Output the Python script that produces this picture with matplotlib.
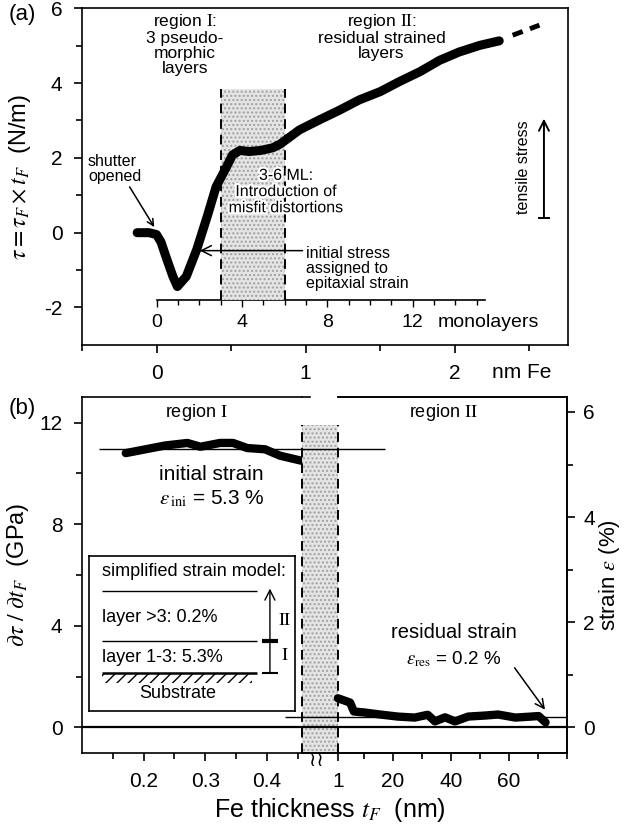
import numpy as np
import matplotlib.pyplot as plt
import matplotlib.patheffects as pe
from matplotlib.ticker import FixedLocator

plt.rcParams['font.family'] = ['Liberation Sans', 'DejaVu Sans']
plt.rcParams['mathtext.fontset'] = 'stix'
plt.rcParams['axes.unicode_minus'] = False

# ---- data ----
# panel (a): integrated stress vs thickness (nm)
t_a = [-0.13, -0.05, 0.0, 0.03, 0.07, 0.11, 0.14, 0.20, 0.27, 0.34, 0.40, 0.47,
       0.51, 0.56, 0.62, 0.70, 0.78, 0.83, 0.96, 1.09, 1.23, 1.36, 1.50, 1.63,
       1.77, 1.90, 2.03, 2.17, 2.30]
tau_a = [0.0, 0.0, -0.05, -0.25, -0.72, -1.17, -1.44, -1.17, -0.45, 0.43, 1.23,
         1.76, 2.08, 2.20, 2.17, 2.20, 2.27, 2.37, 2.75, 3.01, 3.28, 3.55, 3.77,
         4.04, 4.31, 4.61, 4.83, 5.01, 5.13]
t_ext = [2.39, 2.57]
tau_ext = [5.28, 5.55]

# panel (b): stress derivative, region I (nm) and region II (nm)
t_b1 = [0.171, 0.235, 0.271, 0.292, 0.324, 0.345, 0.368, 0.397, 0.421, 0.456]
d_b1 = [10.8, 11.1, 11.2, 11.05, 11.2, 11.2, 11.0, 10.95, 10.7, 10.5]
t_b2 = [1.0, 5.2, 6.5, 10.1, 15.6, 21.6, 27.5, 32.0, 34.5, 38.0, 41.4, 46.0,
        51.8, 56.3, 62.3, 67.8, 70.3, 72.7]
d_b2 = [1.15, 0.98, 0.63, 0.59, 0.51, 0.43, 0.39, 0.50, 0.24, 0.40, 0.24, 0.43,
        0.47, 0.51, 0.39, 0.43, 0.45, 0.20]

ml_nm = 0.1433          # one Fe monolayer in nm
region_ml = [3, 6]      # misfit region in monolayers
eps_ini = 5.3           # %
eps_res = 0.2           # %
modulus = 2.07          # GPa per % strain

fig = plt.figure(figsize=(6.26, 8.31), dpi=100)

# ================= panel (a) =================
ax = fig.add_axes([0.131, 0.585, 0.776, 0.405])
ax.set_xlim(-0.5, 2.76)
ax.set_ylim(-3, 6)

x0, x1 = region_ml[0] * ml_nm, region_ml[1] * ml_nm
ax.fill_between([x0, x1], -1.79, 3.84, facecolor='#e4e4e4', edgecolor='#a0a0a0',
                hatch='....', linewidth=0, zorder=1)
ax.vlines([x0, x1], -1.79, 3.84, colors='k', linestyles=(0, (5, 3)), lw=1.4, zorder=2)

ax.plot(t_a, tau_a, color='k', lw=6.5, solid_capstyle='round',
        solid_joinstyle='round', zorder=3)
ax.plot(t_ext, tau_ext, color='k', lw=3.5, ls=(0, (2.2, 1.6)), zorder=3)

ax.yaxis.set_major_locator(FixedLocator([-2, 0, 2, 4, 6]))
ax.yaxis.set_minor_locator(FixedLocator([-1, 1, 3, 5]))
ax.xaxis.set_major_locator(FixedLocator([0, 1, 2]))
ax.xaxis.set_minor_locator(FixedLocator([-0.5, 0.5, 1.5, 2.5]))
ax.tick_params(which='major', length=6, width=1.2, labelsize=15, pad=8)
ax.tick_params(which='minor', length=4, width=1.2)
ax.set_ylabel(r'$\tau = \tau_F \times t_F$  (N/m)', fontsize=17, labelpad=8)
for s in ax.spines.values():
    s.set_linewidth(1.2)
ax.text(2.25, -3.74, 'nm Fe', fontsize=15, ha='left', va='center')

# inner monolayer axis
sec = ax.secondary_xaxis(0.134, functions=(lambda x: x / ml_nm, lambda m: m * ml_nm))
sec.spines['bottom'].set_bounds(0, 15.4)
sec.spines['bottom'].set_linewidth(1.2)
sec.xaxis.set_major_locator(FixedLocator([0, 4, 8, 12]))
sec.xaxis.set_minor_locator(FixedLocator([1, 2, 3, 5, 6, 7, 9, 10, 11, 13, 14, 15]))
sec.tick_params(which='major', length=5, width=1, labelsize=14, pad=5)
sec.tick_params(which='minor', length=3.5, width=1)
ax.text(1.89, -2.4, 'monolayers', fontsize=14, ha='left', va='center')

ax.text(0.19, 5.05, 'region $\\mathrm{I}$:\n3 pseudo-\nmorphic\nlayers',
        fontsize=12.5, ha='center', va='center', linespacing=1.0)
ax.text(1.51, 5.25, 'region $\\mathrm{II}$:\nresidual strained\nlayers',
        fontsize=12.5, ha='center', va='center', linespacing=1.0)
ax.text(0.87, 1.1, '3-6 ML:\nIntroduction of\nmisfit distortions',
        fontsize=11.5, ha='center', va='center', linespacing=1.1, zorder=5,
        path_effects=[pe.withStroke(linewidth=3, foreground='white')])
ax.annotate('shutter\nopened', xy=(-0.015, 0.15), xytext=(-0.46, 1.7),
            fontsize=11.5, ha='left', va='center', linespacing=1.0,
            arrowprops=dict(arrowstyle='->', color='k', lw=1.1,
                            shrinkA=0, shrinkB=0, relpos=(0.75, 0.0)))
ax.annotate('', xy=(0.29, -0.48), xytext=(0.98, -0.48),
            arrowprops=dict(arrowstyle='->', color='k', lw=1.1,
                            mutation_scale=18, shrinkA=0, shrinkB=0))
ax.text(1.0, -0.95, 'initial stress\nassigned to\nepitaxial strain',
        fontsize=11.5, ha='left', va='center', linespacing=1.0)
ax.annotate('', xy=(2.6, 3.05), xytext=(2.6, 0.4),
            arrowprops=dict(arrowstyle='->', color='k', lw=1.4,
                            mutation_scale=18, shrinkA=0, shrinkB=0))
ax.hlines(0.4, 2.56, 2.64, color='k', lw=1.4)
ax.text(2.46, 1.75, 'tensile stress', fontsize=11.5, rotation=90,
        ha='center', va='center')

fig.text(0.013, 0.982, '(a)', fontsize=16, va='center')

# ================= panel (b) =================
b_bottom, b_h = 0.094, 0.428
axl = fig.add_axes([0.131, b_bottom, 0.351, b_h])
axr = fig.add_axes([0.482, b_bottom, 0.4233, b_h])
axs = axr.twinx()
for a in (axl, axr):
    a.set_ylim(-1, 13)
axs.set_ylim(-1 / modulus, 13 / modulus)
axl.set_xlim(0.1, 0.4565)
axr.set_xlim(-11.5, 80)

axl.spines['right'].set_visible(False)
axr.spines['left'].set_visible(False)
axs.spines['left'].set_visible(False)
axr.spines['top'].set_bounds(1, 80)
axs.spines['top'].set_bounds(1, 80)
axr.axhline(13, xmin=0, xmax=2.8 / 91.5, color='k', lw=1.2, clip_on=False)
for a in (axl, axr, axs):
    for s in a.spines.values():
        s.set_linewidth(1.2)

# shaded misfit region in the gap
axr.fill_between([-11.5, 1], -1, 11.9, facecolor='#e4e4e4', edgecolor='#a0a0a0',
                 hatch='....', linewidth=0, zorder=1)
axr.vlines([-11.5, 1], -1, 11.9, colors='k', linestyles=(0, (5, 3)), lw=1.4,
           zorder=2, clip_on=False)

# reference lines
axl.axhline(0, color='k', lw=1.6)
axr.axhline(0, color='k', lw=1.6)
axl.hlines(eps_ini * modulus, 0.127, 0.4565, color='k', lw=1.0)
axr.hlines(eps_ini * modulus, -11.5, 17.3, color='k', lw=1.0)
axl.hlines(eps_res * modulus, 0.429, 0.4565, color='k', lw=1.0)
axr.hlines(eps_res * modulus, -11.5, 80, color='k', lw=1.0)

axl.plot(t_b1, d_b1, color='k', lw=6, solid_capstyle='round',
         solid_joinstyle='round', zorder=3, clip_on=False)
axr.plot(t_b2, d_b2, color='k', lw=6, solid_capstyle='round',
         solid_joinstyle='round', zorder=3)

axl.yaxis.set_major_locator(FixedLocator([0, 4, 8, 12]))
axl.yaxis.set_minor_locator(FixedLocator([2, 6, 10]))
axl.xaxis.set_major_locator(FixedLocator([0.2, 0.3, 0.4]))
axl.xaxis.set_minor_locator(FixedLocator([0.15, 0.25, 0.35, 0.45]))
axl.xaxis.set_major_formatter(lambda v, p: f'{v:.1f}')
axr.set_yticks([])
axr.xaxis.set_major_locator(FixedLocator([1, 20, 40, 60]))
axr.xaxis.set_minor_locator(FixedLocator([10, 30, 50, 70, 80]))
axs.yaxis.set_major_locator(FixedLocator([0, 2, 4, 6]))
axs.yaxis.set_minor_locator(FixedLocator([1, 3, 5]))
for a in (axl, axr, axs):
    a.tick_params(which='major', length=6, width=1.2, labelsize=15, pad=8)
    a.tick_params(which='minor', length=4, width=1.2)
axs.tick_params(which='major', pad=6)

axl.set_ylabel(r'$\partial\tau\ /\ \partial t_F$  (GPa)', fontsize=17, labelpad=6)
axs.set_ylabel(r'strain $\varepsilon$ (%)', fontsize=16, labelpad=1)
fig.text(0.527, 0.025, r'Fe thickness $t_F$  (nm)', fontsize=18,
         ha='center', va='center')

axl.text(0.285, 12.4, 'region $\\mathrm{I}$', fontsize=13, ha='center', va='center')
axr.text(37.5, 12.4, 'region $\\mathrm{II}$', fontsize=13, ha='center', va='center')
axl.text(0.31, 9.95, 'initial strain', fontsize=15, ha='center', va='center')
axl.text(0.31, 9.0, r'$\varepsilon_{\,\mathrm{ini}}$ = 5.3 %', fontsize=15,
         ha='center', va='center')
axr.text(41, 3.75, 'residual strain', fontsize=14.5, ha='center', va='center')
axr.text(41, 2.7, r'$\varepsilon_{\mathrm{res}}$ = 0.2 %', fontsize=13.5,
         ha='center', va='center')
axr.annotate('', xy=(72.5, 0.7), xytext=(62, 2.35),
             arrowprops=dict(arrowstyle='->', color='k', lw=1.1,
                             mutation_scale=16, shrinkA=0, shrinkB=0))
axr.text(-6.5, -1.3, '≀≀', fontsize=14, ha='center', va='center',
         family=['DejaVu Sans'], clip_on=False)

fig.text(0.013, 0.509, '(b)', fontsize=16, va='center')

# inset: simplified strain model
ins = fig.add_axes([0.142, 0.1444, 0.329, 0.1865])
ins.set_xlim(0, 1)
ins.set_ylim(0, 1)
ins.set_xticks([])
ins.set_yticks([])
for s in ins.spines.values():
    s.set_linewidth(1.2)
ins.text(0.063, 0.897, 'simplified strain model:', fontsize=13, va='center')
ins.text(0.063, 0.606, 'layer >3: 0.2%', fontsize=13, va='center')
ins.text(0.063, 0.348, 'layer 1-3: 5.3%', fontsize=13, va='center')
ins.text(0.432, 0.116, 'Substrate', fontsize=13, ha='center', va='center')
ins.hlines([0.774, 0.452], 0.063, 0.816, color='k', lw=1.0)
ins.hlines(0.245, 0.063, 0.816, color='k', lw=1.8)
ins.fill_between([0.063, 0.79], 0.18, 0.245, facecolor='none', edgecolor='k',
                 hatch='///', linewidth=0)
ins.annotate('', xy=(0.879, 0.79), xytext=(0.879, 0.245),
             arrowprops=dict(arrowstyle='->', color='k', lw=1.0,
                             mutation_scale=18, shrinkA=0, shrinkB=0))
ins.hlines(0.245, 0.84, 0.918, color='k', lw=1.5)
ins.hlines(0.452, 0.84, 0.918, color='k', lw=3)
ins.text(0.95, 0.587, '$\\mathrm{II}$', fontsize=13, ha='center', va='center')
ins.text(0.95, 0.361, '$\\mathrm{I}$', fontsize=13, ha='center', va='center')

fig.savefig('out.png', dpi=100)
